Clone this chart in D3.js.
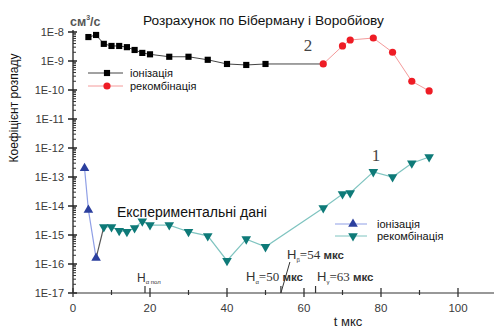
<!DOCTYPE html>
<html>
<head>
<meta charset="utf-8">
<script src="https://cdn.jsdelivr.net/npm/d3@7"></script>
<style>
  body { margin: 0; background: #fff; }
  svg { display: block; font-family: "Liberation Sans", Arial, sans-serif; }
</style>
</head>
<body>
<div id="chart"></div>
<script>
// calculation (Biberman & Vorobyov)
const calcIonT = [4, 6, 8, 10, 12, 14, 16, 18, 20, 25, 30, 35, 40, 45, 50];
const calcIonK = [6.7e-9, 7.9e-9, 3.9e-9, 3.3e-9, 3.3e-9, 3.0e-9, 2.4e-9, 1.9e-9, 1.7e-9, 1.4e-9, 1.4e-9, 1.1e-9, 7.9e-10, 7.3e-10, 7.9e-10];
const calcRecT = [65, 70, 72, 78, 83, 88, 92.5];
const calcRecK = [7.9e-10, 3.3e-9, 5.3e-9, 6.2e-9, 2.0e-9, 2.0e-10, 9.3e-11];

// experimental data
const expIonT = [3, 4, 6];
const expIonK = [2.0e-13, 7.3e-15, 1.6e-16];
const expRecT = [8, 10, 12, 14, 16, 18, 20, 25, 30, 35, 40, 45, 50, 65, 70, 72, 78, 83, 88, 92.5];
const expRecK = [1.9e-15, 1.9e-15, 1.4e-15, 1.3e-15, 1.75e-15, 3.0e-15, 2.2e-15, 2.2e-15, 1.3e-15, 9.3e-16,
                 1.3e-16, 7.2e-16, 3.9e-16, 8.5e-15, 2.6e-14, 2.8e-14, 1.5e-13, 1.0e-13, 3.0e-13, 4.9e-13];

const xMajor = [0, 20, 40, 60, 80, 100];
const xMinor = [10, 30, 50, 70, 90];
const yTicks = [1e-8, 1e-9, 1e-10, 1e-11, 1e-12, 1e-13, 1e-14, 1e-15, 1e-16, 1e-17];
const yLabels = ['1E-8', '1E-9', '1E-10', '1E-11', '1E-12', '1E-13', '1E-14', '1E-15', '1E-16', '1E-17'];
const hMarks = [18.7, 54, 63];

const W = 494, H = 328;
const svg = d3.select('#chart').append('svg').attr('width', W).attr('height', H);

const x = d3.scaleLinear().domain([0, 110]).range([73, 496.5]);
const y = d3.scaleLog().domain([1e-17, 1e-8]).range([293, 32]);

const zip = (a, b) => a.map((t, i) => ({ t, k: b[i] }));
const calcIon = zip(calcIonT, calcIonK);
const calcRec = zip(calcRecT, calcRecK);
const expIon = zip(expIonT, expIonK);
const expRec = zip(expRecT, expRecK);

const line = d3.line().x(d => x(d.t)).y(d => y(d.k));

// Y axis
const yAxis = svg.append('g').attr('transform', `translate(${x(0)},0)`);
yAxis.append('line').attr('y1', y(1e-17)).attr('y2', y(1e-8) - 2).attr('stroke', '#222').attr('stroke-width', 1.3);
const minorY = [];
for (let e = -17; e < -8; e++) for (let m = 2; m <= 9; m++) minorY.push(m * Math.pow(10, e));
yAxis.selectAll('.ym').data(minorY).enter().append('line')
  .attr('x1', 0).attr('x2', 3).attr('y1', d => y(d)).attr('y2', d => y(d))
  .attr('stroke', '#333').attr('stroke-width', 1);
yAxis.selectAll('.yM').data(yTicks).enter().append('line')
  .attr('x1', -5).attr('x2', 4).attr('y1', d => y(d)).attr('y2', d => y(d))
  .attr('stroke', '#222').attr('stroke-width', 1.5);
yAxis.selectAll('.yl').data(yTicks).enter().append('text')
  .attr('x', -9).attr('y', d => y(d)).attr('dy', '0.35em')
  .attr('text-anchor', 'end').attr('font-size', 11).attr('fill', '#3a3a3a')
  .text((d, i) => yLabels[i]);

// X axis
const xAxis = svg.append('g').attr('transform', `translate(0,${y(1e-17)})`);
xAxis.append('line').attr('x1', x(0)).attr('x2', W).attr('stroke', '#333').attr('stroke-width', 1.2);
xAxis.selectAll('.xM').data(xMajor).enter().append('line')
  .attr('x1', d => x(d)).attr('x2', d => x(d)).attr('y1', -5).attr('y2', 4)
  .attr('stroke', '#333').attr('stroke-width', 1.3);
xAxis.selectAll('.xm').data(xMinor).enter().append('line')
  .attr('x1', d => x(d)).attr('x2', d => x(d)).attr('y1', -3).attr('y2', 2)
  .attr('stroke', '#333').attr('stroke-width', 1.2);
xAxis.selectAll('.xh').data(hMarks).enter().append('line')
  .attr('x1', d => x(d)).attr('x2', d => x(d)).attr('y1', -7).attr('y2', 0)
  .attr('stroke', '#333').attr('stroke-width', 1.2);
xAxis.selectAll('.xl').data(xMajor).enter().append('text')
  .attr('x', d => x(d)).attr('y', 19).attr('text-anchor', 'middle')
  .attr('font-size', 11.5).attr('fill', '#3a3a3a').text(d => d);

// series lines
svg.append('path').datum(calcIon.concat([calcRec[0]])).attr('d', line)
  .attr('fill', 'none').attr('stroke', '#444').attr('stroke-width', 1);
svg.append('path').datum(calcRec).attr('d', line)
  .attr('fill', 'none').attr('stroke', '#f49a9a').attr('stroke-width', 1);
svg.append('path').datum(expIon).attr('d', line)
  .attr('fill', 'none').attr('stroke', '#8f9fe6').attr('stroke-width', 1.2);
svg.append('path').datum([expIon[expIon.length - 1], expRec[0]]).attr('d', line)
  .attr('fill', 'none').attr('stroke', '#555').attr('stroke-width', 1.2);
svg.append('path').datum(expRec).attr('d', line)
  .attr('fill', 'none').attr('stroke', '#7fc4c0').attr('stroke-width', 1.2);

// markers
const sq = d3.symbol().type(d3.symbolSquare).size(38);
const tri = d3.symbol().type(d3.symbolTriangle).size(40);
svg.selectAll('.cIon').data(calcIon).enter().append('path')
  .attr('d', sq).attr('transform', d => `translate(${x(d.t)},${y(d.k)})`).attr('fill', '#000');
svg.selectAll('.cRec').data(calcRec).enter().append('circle')
  .attr('cx', d => x(d.t)).attr('cy', d => y(d.k)).attr('r', 3.6).attr('fill', '#ee1c25');
svg.selectAll('.eIon').data(expIon).enter().append('path')
  .attr('d', tri).attr('transform', d => `translate(${x(d.t)},${y(d.k)})`).attr('fill', '#2b3f9e');
svg.selectAll('.eRec').data(expRec).enter().append('path')
  .attr('d', tri).attr('transform', d => `translate(${x(d.t)},${y(d.k)}) rotate(180)`).attr('fill', '#0e7a78');

// legend 1 (calculation)
const leg1 = [
  { label: 'іонізація', color: '#444', mark: 'sq', mc: '#000', y: 73 },
  { label: 'рекомбінація', color: '#f49a9a', mark: 'c', mc: '#ee1c25', y: 86 }
];
leg1.forEach(l => {
  svg.append('line').attr('x1', 88).attr('x2', 123).attr('y1', l.y).attr('y2', l.y).attr('stroke', l.color);
  if (l.mark === 'sq') svg.append('path').attr('d', sq).attr('transform', `translate(107,${l.y})`).attr('fill', l.mc);
  else svg.append('circle').attr('cx', 107).attr('cy', l.y).attr('r', 3.6).attr('fill', l.mc);
  svg.append('text').attr('x', 130).attr('y', l.y).attr('dy', '0.35em').attr('font-size', 11).attr('fill', '#111').text(l.label);
});

// legend 2 (experiment)
const leg2 = [
  { label: 'іонізація', color: '#8f9fe6', mc: '#2b3f9e', rot: 0, y: 224 },
  { label: 'рекомбінація', color: '#7fc4c0', mc: '#0e7a78', rot: 180, y: 236 }
];
leg2.forEach(l => {
  svg.append('line').attr('x1', 335).attr('x2', 367).attr('y1', l.y).attr('y2', l.y).attr('stroke', l.color);
  svg.append('path').attr('d', tri).attr('transform', `translate(353,${l.y}) rotate(${l.rot})`).attr('fill', l.mc);
  svg.append('text').attr('x', 377).attr('y', l.y).attr('dy', '0.35em').attr('font-size', 11).attr('fill', '#111').text(l.label);
});

// titles and labels
svg.append('text').attr('x', 143).attr('y', 25).attr('font-size', 13.7).attr('fill', '#111')
  .text('Розрахунок по Біберману і Воробйову');
const unit = svg.append('text').attr('x', 70).attr('y', 26).attr('font-size', 12.5)
  .attr('font-weight', 'bold').attr('fill', '#555');
unit.append('tspan').text('см');
unit.append('tspan').attr('font-size', 7).attr('dy', -6).text('3');
unit.append('tspan').attr('dy', 6).text('/с');

svg.append('text').attr('x', 117).attr('y', 217).attr('font-size', 14).attr('fill', '#111')
  .text('Експериментальні дані');

svg.append('text').attr('x', 308).attr('y', 51).attr('text-anchor', 'middle')
  .attr('font-family', '"Liberation Serif", serif').attr('font-size', 17).attr('fill', '#444').text('2');
svg.append('text').attr('x', 376).attr('y', 161).attr('text-anchor', 'middle')
  .attr('font-family', '"Liberation Serif", serif').attr('font-size', 17).attr('fill', '#444').text('1');

svg.append('text').attr('transform', 'translate(18,108) rotate(-90)').attr('text-anchor', 'middle')
  .attr('font-size', 12).attr('fill', '#111').text('Коефіцієнт розпаду');
svg.append('text').attr('x', 348).attr('y', 326).attr('text-anchor', 'middle')
  .attr('font-size', 13).attr('fill', '#222').text('t мкс');

// H-line annotations
function hLabel(px, py, sub, val) {
  const t = svg.append('text').attr('x', px).attr('y', py).attr('font-size', 13).attr('fill', '#333');
  t.append('tspan').text('H');
  t.append('tspan').attr('font-size', 6).attr('dy', 3).text(sub);
  t.append('tspan').attr('dy', -3).attr('font-family', '"Liberation Serif", serif').attr('font-size', 13).text(val);
  t.append('tspan').attr('font-size', 11.5).attr('font-weight', 'bold').text(' мкс');
  return t;
}
hLabel(287, 259, 'β', '=54');
hLabel(246, 281, 'α', '=50');
hLabel(317, 281, 'γ', '=63');
const hp = svg.append('text').attr('x', 137).attr('y', 282).attr('font-size', 12).attr('fill', '#333');
hp.append('tspan').text('H');
hp.append('tspan').attr('font-size', 6).attr('dy', 2).text('α пол');
svg.append('line').attr('x1', x(54)).attr('y1', y(1e-17)).attr('x2', x(54) + 9).attr('y2', 262)
  .attr('stroke', '#333').attr('stroke-width', 1);
</script>
</body>
</html>
